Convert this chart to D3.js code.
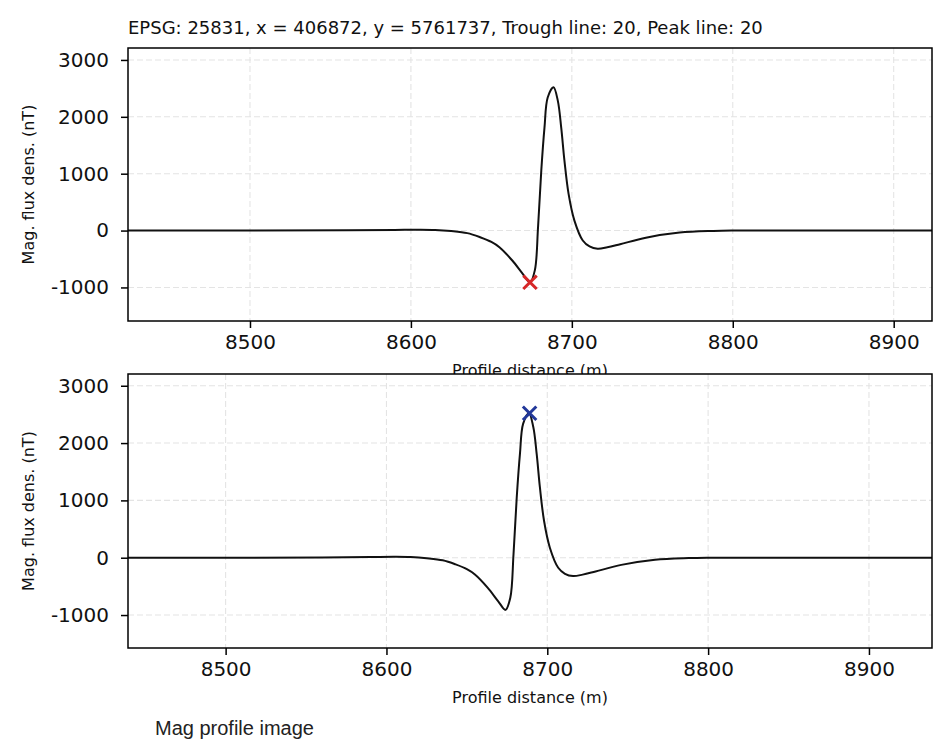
<!DOCTYPE html>
<html>
<head>
<meta charset="utf-8">
<script src="https://cdn.jsdelivr.net/npm/d3@7"></script>
<style>
  html, body { margin: 0; padding: 0; background: #fff; }
  svg { display: block; }
</style>
</head>
<body>
<svg id="chart" width="938" height="742"></svg>
<script>
// profile line 20
const profileDist = [8400, 8500, 8560, 8590, 8605, 8615, 8625, 8635, 8643, 8650, 8655, 8663,
    8669.5, 8674, 8677, 8679, 8681, 8683, 8685, 8688.6, 8691.3, 8693.4, 8695.4, 8698,
    8701.6, 8706.8, 8711, 8716, 8722, 8730, 8746, 8767, 8788, 8800, 8850, 8950];
const magFlux = [0, 0, 4, 12, 16, 12, -8, -45, -117, -200, -293, -526,
    -760, -910, -700, 60, 1050, 1810, 2340, 2520, 2280, 1810, 1230, 640,
    175, -175, -280, -320, -295, -240, -125, -35, -6, 0, 0, 0];

const yTicks = [-1000, 0, 1000, 2000, 3000];
const xTicks = [8500, 8600, 8700, 8800, 8900];

const titleText = "EPSG: 25831, x = 406872, y = 5761737, Trough line: 20, Peak line: 20";
const xLabelText = "Profile distance (m)";
const yLabelText = "Mag. flux dens. (nT)";
const captionText = "Mag profile image";

// picked points: trough on top panel, peak on bottom panel
const troughPoint = { dist: 8674, mag: -910 };
const peakPoint = { dist: 8689, mag: 2520 };

const svg = d3.select("#chart");
const font = "'DejaVu Sans', sans-serif";

const data = profileDist.map((d, i) => ({ x: d, y: magFlux[i] }));

function drawPanel(opts) {
    const g = svg.append("g");
    const x = d3.scaleLinear().domain(opts.xDomain).range([opts.left, opts.right]);
    const y = d3.scaleLinear().domain(opts.yDomain).range([opts.bottom, opts.top]);

    // white face, covers anything from the panel above
    g.append("rect")
        .attr("x", opts.left).attr("y", opts.top)
        .attr("width", opts.right - opts.left)
        .attr("height", opts.bottom - opts.top)
        .attr("fill", "#fff");

    // grid
    g.append("g").selectAll("line")
        .data(xTicks)
        .join("line")
        .attr("x1", d => x(d)).attr("x2", d => x(d))
        .attr("y1", opts.top).attr("y2", opts.bottom)
        .attr("stroke", "#e4e4e4").attr("stroke-width", 1.1)
        .attr("stroke-dasharray", "6,3");
    g.append("g").selectAll("line")
        .data(yTicks)
        .join("line")
        .attr("y1", d => y(d)).attr("y2", d => y(d))
        .attr("x1", opts.left).attr("x2", opts.right)
        .attr("stroke", "#e4e4e4").attr("stroke-width", 1.1)
        .attr("stroke-dasharray", "6,3");

    const clipId = "clip" + opts.id;
    g.append("clipPath").attr("id", clipId)
        .append("rect")
        .attr("x", opts.left).attr("y", opts.top)
        .attr("width", opts.right - opts.left)
        .attr("height", opts.bottom - opts.top);

    const line = d3.line()
        .x(d => x(d.x))
        .y(d => y(d.y))
        .curve(d3.curveCatmullRom.alpha(0.5));

    g.append("path")
        .datum(data)
        .attr("clip-path", "url(#" + clipId + ")")
        .attr("d", line)
        .attr("fill", "none")
        .attr("stroke", "#111")
        .attr("stroke-width", 2)
        .attr("stroke-linejoin", "round");

    // marker
    g.append("path")
        .attr("d", d3.symbol().type(d3.symbolTimes).size(120)())
        .attr("transform", "translate(" + x(opts.marker.dist) + "," + y(opts.marker.mag) + ")")
        .attr("fill", "none")
        .attr("stroke", opts.markerColor)
        .attr("stroke-width", 3);

    // axes, plain hyphen for negatives like the original
    const fmt = d => String(d);
    const xAxis = g.append("g")
        .attr("transform", "translate(0," + opts.bottom + ")")
        .call(d3.axisBottom(x).tickValues(xTicks).tickSize(7).tickPadding(7).tickFormat(fmt));
    const yAxis = g.append("g")
        .attr("transform", "translate(" + opts.left + ",0)")
        .call(d3.axisLeft(y).tickValues(yTicks).tickSize(7).tickPadding(12).tickFormat(fmt));

    [xAxis, yAxis].forEach(a => {
        a.select(".domain").remove();
        a.selectAll(".tick line").attr("stroke", "#000").attr("stroke-width", 1.5);
        a.selectAll(".tick text")
            .attr("fill", "#111")
            .style("font-family", font)
            .style("font-size", "20px");
    });

    // frame
    g.append("rect")
        .attr("x", opts.left).attr("y", opts.top)
        .attr("width", opts.right - opts.left)
        .attr("height", opts.bottom - opts.top)
        .attr("fill", "none")
        .attr("stroke", "#000")
        .attr("stroke-width", 1.5);

    // labels
    g.append("text")
        .attr("x", (opts.left + opts.right) / 2)
        .attr("y", opts.bottom + 55)
        .attr("text-anchor", "middle")
        .style("font-family", font)
        .style("font-size", "16px")
        .attr("fill", "#111")
        .text(xLabelText);

    g.append("text")
        .attr("transform", "translate(34," + (opts.top + opts.bottom) / 2 + ") rotate(-90)")
        .attr("text-anchor", "middle")
        .style("font-family", font)
        .style("font-size", "16px")
        .attr("fill", "#111")
        .text(yLabelText);
}

svg.append("text")
    .attr("x", 128)
    .attr("y", 34)
    .style("font-family", font)
    .style("font-size", "18px")
    .attr("fill", "#111")
    .text(titleText);

drawPanel({
    id: "top",
    left: 128, right: 932, top: 48, bottom: 321,
    xDomain: [8424.2, 8923.8],
    yDomain: [-1590, 3210],
    marker: troughPoint,
    markerColor: "#d62728"
});

drawPanel({
    id: "bottom",
    left: 128, right: 932, top: 374, bottom: 648,
    xDomain: [8439.3, 8939.2],
    yDomain: [-1575, 3205],
    marker: peakPoint,
    markerColor: "#22389a"
});

svg.append("text")
    .attr("x", 155)
    .attr("y", 735)
    .style("font-family", "'Liberation Sans', Arial, sans-serif")
    .style("font-size", "20px")
    .attr("fill", "#222")
    .text(captionText);
</script>
</body>
</html>
